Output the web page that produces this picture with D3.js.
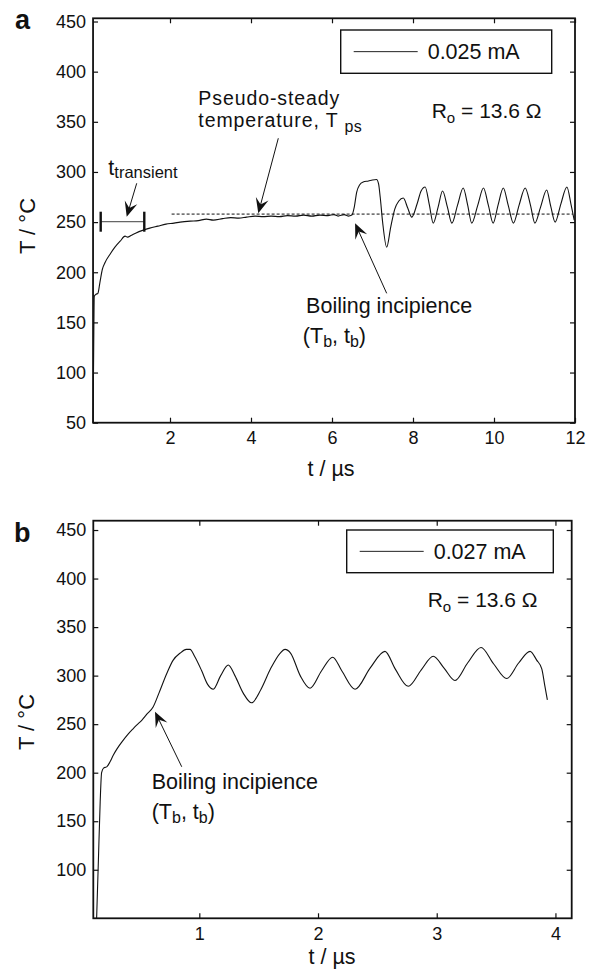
<!DOCTYPE html>
<html><head><meta charset="utf-8">
<script src="https://cdn.jsdelivr.net/npm/d3@7/dist/d3.min.js"></script>
<style>
body{margin:0;background:#fff}
text{font-family:"Liberation Sans",Arial,Helvetica,sans-serif;fill:#111}
</style>
</head><body>
<svg id="c" width="592" height="971"></svg>
<script>
// ---------------- DATA ----------------
// Panel a: 0.025 mA
const timeA = [0.10,0.115,0.13,0.17,0.22,0.27,0.33,0.40,0.52,0.64,0.77,0.89,0.95,1.05,1.15,1.34,1.5,1.7,1.9,2.1,2.25,2.5,2.7,2.9,3.07,3.3,3.5,3.7,3.89,4.1,4.3,4.5,4.7,4.9,5.1,5.3,5.5,5.7,5.9,6.05,6.15,6.3,6.4,6.49,6.55,6.61,6.68,6.77,6.9,7.0,7.1,7.15,7.19,7.25,7.35,7.45,7.55,7.65,7.76,7.87,7.97,8.1,8.2,8.3,8.4,8.5,8.62,8.73,8.85,8.96,9.1,9.24,9.35,9.45,9.6,9.74,9.86,9.98,10.1,10.23,10.35,10.48,10.62,10.77,10.9,11.01,11.15,11.3,11.4,11.51,11.65,11.8,11.9,11.98];
const tempA = [50,120,176,178,179,190,203,210,218,225,231,236,235,237,239,242,244,246,248,249,250,251,251.5,253,252,253.5,254.5,254,255,256,255.5,256,255.5,256.5,256,257,256,257,256.5,257.5,256,257.5,256,257,265,280,287,290,291,292,292.5,288,275,250,225,245,263,271,274,264,255,268,281,285,268,249,265,281,265,249,267,284,267,249,267,284,267,249,267,284,267,249,267,284,267,249,265,282,266,250,268,285,268,252];
// Panel b: 0.027 mA
const timeB = [0.135,0.15,0.165,0.177,0.195,0.22,0.247,0.275,0.304,0.35,0.402,0.44,0.472,0.515,0.556,0.612,0.66,0.725,0.78,0.837,0.89,0.922,0.96,1.02,1.07,1.118,1.18,1.244,1.3,1.37,1.44,1.52,1.6,1.68,1.722,1.77,1.85,1.933,2.03,2.124,2.2,2.312,2.44,2.564,2.65,2.76,2.87,2.971,3.06,3.154,3.26,3.373,3.48,3.59,3.69,3.786,3.842,3.885,3.91,3.932];
const tempB = [50,110,170,200,205,206,211,218,224,232,240,245,249,254,260,268,282,302,316,323,327,327,320,305,291,286,300,311,300,282,272,286,307,323,327,323,300,287,305,319,305,286,308,325,307,289,306,320,308,295,313,329,312,297,313,325,316,307,290,275];

const xTicksA = [2,4,6,8,10,12];
const yTicksA = [50,100,150,200,250,300,350,400,450];
const xTicksB = [1,2,3,4];
const yTicksB = [100,150,200,250,300,350,400,450];
const legendA = "0.025 mA";
const legendB = "0.027 mA";
const pseudoSteadyT = 258;              // dashed reference temperature (°C)
const pseudoSteadySpan = [2.04, 11.95]; // µs

// ---------------- DRAW ----------------
const svg = d3.select("#c");
const FONT = 18;
const ANN = 21.5;

function headPath(x1,y1,x2,y2,len,hw,notch){
  const a = Math.atan2(y2-y1,x2-x1);
  const ux=Math.cos(a), uy=Math.sin(a), px=-uy, py=ux;
  const bx=x2-ux*len, by=y2-uy*len;
  const nx=x2-ux*notch, ny=y2-uy*notch;
  return `M${x2},${y2}L${bx+px*hw},${by+py*hw}L${nx},${ny}L${bx-px*hw},${by-py*hw}Z`;
}
function arrow(g,x1,y1,x2,y2){
  const a = Math.atan2(y2-y1,x2-x1);
  g.append("line").attr("x1",x1).attr("y1",y1)
    .attr("x2",x2-Math.cos(a)*8).attr("y2",y2-Math.sin(a)*8)
    .attr("stroke","#111").attr("stroke-width",1);
  g.append("path").attr("d",headPath(x1,y1,x2,y2,15,6.5,9)).attr("fill","#111");
}

function panel(c){
  const g = svg.append("g");
  const x = d3.scaleLinear().domain(c.xDomain).range([c.left,c.right]);
  const y = d3.scaleLinear().domain(c.yDomain).range([c.bottom,c.top]);

  const styleAxis = sel => {
    sel.select(".domain").remove();
    sel.selectAll("line").attr("stroke","#111").attr("stroke-width",1.2);
    sel.selectAll("text").attr("font-size",FONT).attr("fill","#111")
      .attr("font-family","Liberation Sans, Arial, Helvetica, sans-serif");
  };
  g.append("g").attr("transform",`translate(0,${c.bottom})`)
    .call(d3.axisBottom(x).tickValues(c.xTicks).tickSizeInner(-5).tickSizeOuter(0).tickPadding(9).tickFormat(d3.format("d")))
    .call(styleAxis);
  g.append("g").attr("transform",`translate(0,${c.top})`)
    .call(d3.axisTop(x).tickValues(c.xTicks).tickSizeInner(-5).tickSizeOuter(0).tickFormat(""))
    .call(styleAxis);
  g.append("g").attr("transform",`translate(${c.left},0)`)
    .call(d3.axisLeft(y).tickValues(c.yTicks).tickSizeInner(-5).tickSizeOuter(0).tickPadding(7).tickFormat(d3.format("d")))
    .call(styleAxis);
  g.append("g").attr("transform",`translate(${c.right},0)`)
    .call(d3.axisRight(y).tickValues(c.yTicks).tickSizeInner(-5).tickSizeOuter(0).tickFormat(""))
    .call(styleAxis);

  g.append("rect").attr("x",c.left).attr("y",c.top)
    .attr("width",c.right-c.left).attr("height",c.bottom-c.top)
    .attr("fill","none").attr("stroke","#111").attr("stroke-width",1.8);

  const pts = c.time.map((t,i)=>[t,c.temp[i]]);
  g.append("path").datum(pts)
    .attr("d",d3.line().x(d=>x(d[0])).y(d=>y(d[1])).curve(d3.curveMonotoneX))
    .attr("fill","none").attr("stroke","#111").attr("stroke-width",1.1);

  // legend
  const lx=c.legend.x, ly=c.legend.y, lw=c.legend.w, lh=c.legend.h;
  g.append("rect").attr("x",lx).attr("y",ly).attr("width",lw).attr("height",lh)
    .attr("fill","#fff").attr("stroke","#111").attr("stroke-width",1.4);
  g.append("line").attr("x1",lx+13).attr("x2",lx+77).attr("y1",ly+lh/2).attr("y2",ly+lh/2)
    .attr("stroke","#222").attr("stroke-width",1);
  g.append("text").attr("x",lx+87).attr("y",ly+lh/2+7.5).attr("font-size",ANN).text(c.legendLabel);

  // R_o text
  const r = g.append("text").attr("x",c.ro.x).attr("y",c.ro.y).attr("font-size",21);
  r.append("tspan").text("R");
  r.append("tspan").attr("font-size",15).attr("dy",5).text("o");
  r.append("tspan").attr("dy",-5).text(" = 13.6 Ω");

  // axis labels
  g.append("text").attr("x",c.xLab.x).attr("y",c.xLab.y).attr("text-anchor","middle")
    .attr("font-size",21.5).text("t / µs");
  g.append("text").attr("transform",`translate(${c.yLab.x},${c.yLab.y}) rotate(-90)`)
    .attr("text-anchor","middle").attr("font-size",22).text("T / °C");
  // panel letter
  g.append("text").attr("x",c.letter.x).attr("y",c.letter.y).attr("font-size",27)
    .attr("font-weight","bold").text(c.letter.s);
  return {g,x,y};
}

// Two-line "Boiling incipience / (T_b, t_b)" as one text element
function boilText(g,x0,y0,x1,lineGap){
  const t = g.append("text").attr("x",x0).attr("y",y0).attr("font-size",ANN);
  t.append("tspan").attr("x",x0).text("Boiling incipience");
  t.append("tspan").attr("x",x1).attr("dy",lineGap).text("(T");
  t.append("tspan").attr("font-size",16).attr("dy",4).text("b");
  t.append("tspan").attr("dy",-4).text(", t");
  t.append("tspan").attr("font-size",16).attr("dy",4).text("b");
  t.append("tspan").attr("dy",-4).text(")");
}

// ---------- Panel a ----------
const A = panel({
  xDomain:[0.1,12], yDomain:[50,453.2], left:93.05, right:575, top:18.3, bottom:422.7,
  xTicks:xTicksA, yTicks:yTicksA, time:timeA, temp:tempA,
  legend:{x:340.7,y:30,w:211,h:43.3}, legendLabel:legendA,
  ro:{x:431.7,y:118}, xLab:{x:331,y:476}, yLab:{x:35,y:226}, letter:{x:15,y:28.5,s:"a"}
});
{
  const {g,x,y} = A;
  g.append("line").attr("x1",x(pseudoSteadySpan[0])).attr("x2",x(pseudoSteadySpan[1]))
    .attr("y1",y(pseudoSteadyT)).attr("y2",y(pseudoSteadyT))
    .attr("stroke","#111").attr("stroke-width",1).attr("stroke-dasharray","3,2");
  const b0=x(0.289), b1=x(1.365), by=y(250.4);
  g.append("line").attr("x1",b0).attr("x2",b1).attr("y1",by).attr("y2",by).attr("stroke","#666").attr("stroke-width",1.2);
  [b0,b1].forEach(bx=>g.append("line").attr("x1",bx).attr("x2",bx).attr("y1",by-10).attr("y2",by+10)
    .attr("stroke","#111").attr("stroke-width",2.4));
  const tt = g.append("text").attr("x",x(0.477)).attr("y",y(297)).attr("font-size",ANN);
  tt.append("tspan").text("t");
  tt.append("tspan").attr("font-size",16.5).attr("dy",3).text("transient");
  arrow(g,x(1.178),y(288.7),x(0.931),y(255.4));
  const ps = g.append("text").attr("x",x(2.7)).attr("y",y(367)).attr("font-size",19.5)
    .attr("letter-spacing",0.9);
  ps.append("tspan").attr("x",x(2.7)).text("Pseudo-steady");
  ps.append("tspan").attr("x",x(2.7)).attr("dy",22.6).text("temperature, T ");
  ps.append("tspan").attr("font-size",16).attr("letter-spacing",0.5).attr("dy",5).text("ps");
  arrow(g,x(4.674),y(333.6),x(4.18),y(258.8));
  boilText(g,x(5.36),y(159),x(5.28),y(129.5)-y(159));
  arrow(g,x(7.35),y(179),x(6.57),y(248.8));
}

// ---------- Panel b ----------
const B = panel({
  xDomain:[0.107,4.137], yDomain:[50,459.6], left:93.3, right:571.7, top:520.7, bottom:918.3,
  xTicks:xTicksB, yTicks:yTicksB, time:timeB, temp:tempB,
  legend:{x:346.7,y:530,w:206.6,h:42.7}, legendLabel:legendB,
  ro:{x:427.7,y:606.7}, xLab:{x:332,y:964}, yLab:{x:33.5,y:722}, letter:{x:14,y:541.5,s:"b"}
});
{
  const {g,x,y} = B;
  boilText(g,x(0.599),y(182.9),x(0.599),y(152.3)-y(182.9));
  arrow(g,x(0.852),y(206.1),x(0.627),y(262.8));
}
</script>
</body></html>
